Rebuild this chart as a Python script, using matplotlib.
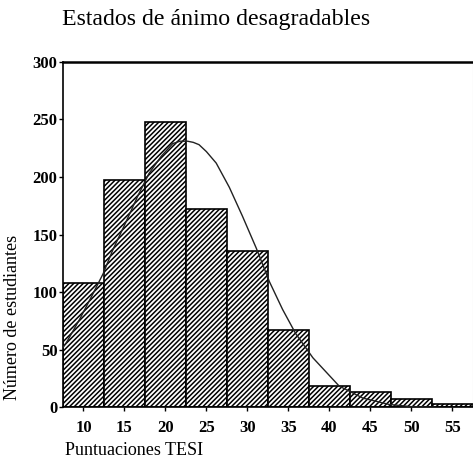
import matplotlib
matplotlib.use("Agg")
import matplotlib.pyplot as plt

# histogram bins (TESI score classes) and counts
bin_centers = [10, 15, 20, 25, 30, 35, 40, 45, 50, 55]
counts = [108, 197, 248, 172, 136, 67, 18.5, 13.5, 7.5, 3]
bin_width = 5

# fitted curve, points
curve_x = [7.5, 7.9, 9.5, 10.9, 12.4, 13.6, 15.0, 16.6, 18.0, 19.5, 20.9, 21.8,
           22.7, 23.4, 24.1, 25.0, 26.2, 27.8, 29.4, 31.1, 32.7, 34.3, 35.9,
           38.0, 41.2, 44.1, 47.3, 50.1, 53.0]
curve_y = [52, 56, 76, 95, 116, 137, 158, 183, 203, 218, 229, 231,
           231, 230, 228, 222, 212, 191, 166, 138, 109, 85, 64,
           43, 18.5, 8, 2.5, 0.5, 0]

x_ticks = [10, 15, 20, 25, 30, 35, 40, 45, 50, 55]
y_ticks = [0, 50, 100, 150, 200, 250, 300]

title = "Estados de ánimo desagradables"
x_label = "Puntuaciones TESI"
y_label = "Número de estudiantes"

plt.rcParams['font.family'] = ['Liberation Serif', 'DejaVu Serif']
plt.rcParams['hatch.linewidth'] = 1.1

fig = plt.figure(figsize=(4.73, 4.63), dpi=100)
ax = fig.add_axes([0.1332, 0.1203, 0.866, 0.7464])

ax.bar(bin_centers, counts, width=bin_width, color='white', edgecolor='black',
       linewidth=1.2, hatch='///////', zorder=2)
ax.plot(curve_x, curve_y, color='#222222', linewidth=1.0, zorder=3)

ax.set_xlim(7.5, 57.5)
ax.set_ylim(0, 300)
ax.set_xticks(x_ticks)
ax.set_yticks(y_ticks)
ax.tick_params(axis='both', direction='out', length=3, width=1,
               labelsize=12)
ax.tick_params(axis='y', pad=1)
ax.tick_params(axis='x', pad=6)
for lbl in ax.get_xticklabels() + ax.get_yticklabels():
    lbl.set_fontweight('bold')

for side in ['left', 'bottom']:
    ax.spines[side].set_linewidth(1.2)
ax.spines['top'].set_linewidth(1.8)
ax.spines['right'].set_color('#cccccc')
ax.spines['right'].set_linewidth(0.8)

fig.text(0.131, 0.957, title, fontsize=17.2, ha='left', va='center')
fig.text(0.138, 0.027, x_label, fontsize=13, ha='left', va='center')
fig.text(0.027, 0.315, y_label, fontsize=13, rotation=90,
         ha='center', va='center')

fig.savefig("out.png", dpi=100)
